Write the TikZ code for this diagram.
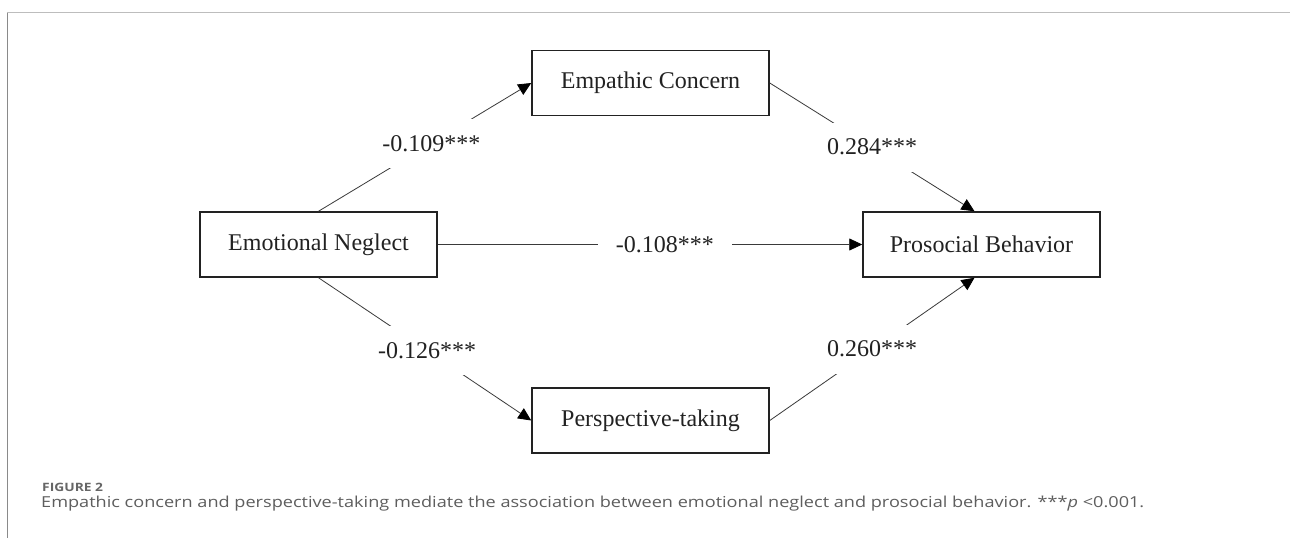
\documentclass[tikz,border=0pt]{standalone}
\usepackage{fontspec}
\setmainfont{Liberation Serif}
\newfontfamily\capfont[FakeStretch=1.2]{Open Sans}
\usetikzlibrary{arrows.meta}
\definecolor{boxline}{HTML}{222222}
\definecolor{conline}{HTML}{3A3A3A}
\definecolor{captxt}{HTML}{5E5E5E}
\definecolor{figtxt}{HTML}{666666}
\definecolor{topbord}{HTML}{BDBDBD}
\definecolor{leftbord}{HTML}{8A8A8A}
\tikzset{
  var/.style={draw=boxline, line width=1.5pt, minimum width=237pt, minimum height=65pt,
    inner sep=0pt, text=boxline, font=\fontsize{24}{28}\selectfont},
  conn/.style={draw=conline, line width=0.8pt, -{Triangle[length=13pt,width=12pt,color=black]}},
  coef/.style={fill=white, text=boxline, inner xsep=18pt, inner ysep=0pt, minimum height=49pt,
    font=\fontsize{24}{28}\selectfont},
}
\begin{document}
\begin{tikzpicture}[x=1pt,y=-1pt]
\useasboundingbox (0,0) rectangle (1290,543);
\fill[white] (0,0) rectangle (1290,543);
% frame
\draw[topbord, line width=1pt] (7,13) -- (1290,13);
\draw[leftbord, line width=1pt] (7,13) -- (7,538);
% variables
\node[var] (en) at (318.5,244.5) {Emotional Neglect};
\node[var] (pb) at (981.5,244.5) {Prosocial Behavior};
\node[var] (ec) at (650.5,83) {Empathic Concern};
\node[var] (pt) at (650.5,420.5) {Perspective-taking};
% paths
\draw[conn] (en.north) -- node[coef, pos=0.53] {-0.109***} (ec.west);
\draw[conn] (ec.east) -- node[coef, pos=0.5] {0.284***} ([xshift=-7pt]pb.north);
\draw[conn] (en.east) -- node[coef, pos=0.535] {-0.108***} (pb.west);
\draw[conn] (en.south) -- node[coef, pos=0.51] {-0.126***} (pt.west);
\draw[conn] (pt.east) -- node[coef, pos=0.5] {0.260***} ([xshift=-7pt]pb.south);
% caption
\node[anchor=base west, inner sep=0pt, text=figtxt, font=\capfont\bfseries\fontsize{11.5}{14}\selectfont] (fig) at (42,491) {FIGURE 2};
\node[anchor=base west, inner sep=0pt, text=captxt, font=\capfont\fontsize{15.1}{18}\selectfont] (cap) at (41,507) {Empathic concern and perspective-taking mediate the association between emotional neglect and prosocial behavior. ***\textit{p} <0.001.};
\end{tikzpicture}
\end{document}
